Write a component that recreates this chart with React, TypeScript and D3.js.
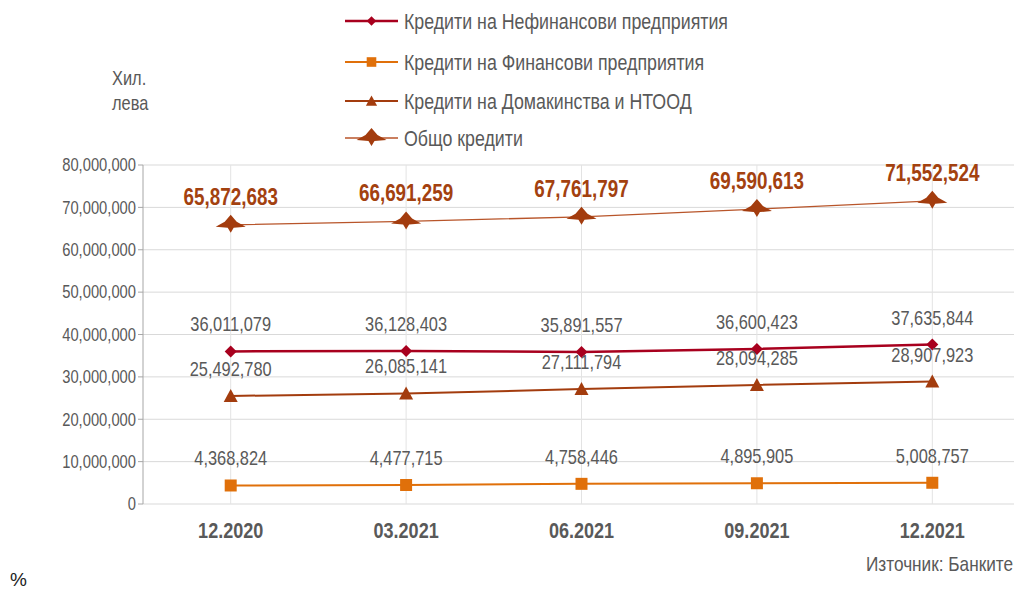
import React from "react";
import * as d3 from "d3";

const categories = ["12.2020", "03.2021", "06.2021", "09.2021", "12.2021"];
const nonFinancial = [36011079, 36128403, 35891557, 36600423, 37635844];
const financial = [4368824, 4477715, 4758446, 4895905, 5008757];
const households = [25492780, 26085141, 27111794, 28094285, 28907923];
const total = [65872683, 66691259, 67761797, 69590613, 71552524];
const yTicks = [0, 10000000, 20000000, 30000000, 40000000, 50000000, 60000000, 70000000, 80000000];
const legendLabels = [
  "Кредити на Нефинансови предприятия",
  "Кредити на Финансови предприятия",
  "Кредити на Домакинства и НТООД",
  "Общо кредити",
];

const W = 1014;
const H = 590;
const FONT = "'Liberation Sans', Arial, sans-serif";
const GRAY = "#595959";
const NARROW = 0.82;

type Marker = "diamond" | "square" | "triangle" | "big";

interface Series {
  name: string;
  values: number[];
  color: string;
  lineColor: string;
  lineWidth: number;
  marker: Marker;
  bold: boolean;
  labelColor: string;
}

const series: Series[] = [
  { name: legendLabels[0], values: nonFinancial, color: "#A8001E", lineColor: "#A8001E", lineWidth: 2.5, marker: "diamond", bold: false, labelColor: GRAY },
  { name: legendLabels[1], values: financial, color: "#E0700A", lineColor: "#E0700A", lineWidth: 2, marker: "square", bold: false, labelColor: GRAY },
  { name: legendLabels[2], values: households, color: "#A33C0E", lineColor: "#A33C0E", lineWidth: 2, marker: "triangle", bold: false, labelColor: GRAY },
  { name: legendLabels[3], values: total, color: "#A33C0E", lineColor: "#B8552A", lineWidth: 1.3, marker: "big", bold: true, labelColor: "#A3410F" },
];

function markerPath(m: Marker): string {
  switch (m) {
    case "diamond":
      return "M0,-6L6,0L0,6L-6,0Z";
    case "square":
      return "M-6,-6H6V6H-6Z";
    case "triangle":
      return "M0,-7L7,6H-7Z";
    case "big":
      return "M0,-10L6,-3L15,2L3,3L0,8L-3,3L-15,2L-6,-3Z";
  }
}

interface NTextProps {
  x: number;
  y: number;
  size: number;
  anchor?: "start" | "middle" | "end";
  bold?: boolean;
  fill?: string;
  dy?: string;
  children: React.ReactNode;
}

function NText({ x, y, size, anchor = "start", bold = false, fill = GRAY, dy, children }: NTextProps) {
  return (
    <text
      transform={`translate(${x},${y}) scale(${NARROW},1)`}
      dy={dy}
      textAnchor={anchor}
      fontSize={size}
      fontWeight={bold ? "bold" : "normal"}
      fill={fill}
    >
      {children}
    </text>
  );
}

export default function App() {
  const x = d3.scaleBand<string>().domain(categories).range([143, 1020]).paddingInner(0).paddingOuter(0);
  const cx = (c: string) => (x(c) as number) + x.bandwidth() / 2;
  const y = d3.scaleLinear().domain([0, 80000000]).range([504, 165]);
  const fmt = d3.format(",");
  const line = d3
    .line<number>()
    .x((_, i) => cx(categories[i]))
    .y((v) => y(v));

  const legendY = [21, 62, 101, 138];

  return (
    <svg
      width={W}
      height={H}
      style={{ position: "absolute", left: 0, top: 0, background: "#fff" }}
      fontFamily={FONT}
    >
      {/* horizontal gridlines */}
      {yTicks.map((t) => (
        <line key={"h" + t} x1={143} x2={W} y1={y(t)} y2={y(t)} stroke="#D9D9D9" strokeWidth={1} />
      ))}
      {/* vertical gridlines */}
      {categories.map((c) => (
        <line key={"v" + c} x1={cx(c)} x2={cx(c)} y1={y(80000000)} y2={y(0)} stroke="#E3E3E3" strokeWidth={1} />
      ))}
      {/* y axis */}
      <line x1={143} x2={143} y1={y(80000000)} y2={y(0)} stroke="#A6A6A6" strokeWidth={1} />
      {yTicks.map((t) => (
        <g key={"t" + t}>
          <line x1={138} x2={143} y1={y(t)} y2={y(t)} stroke="#A6A6A6" strokeWidth={1} />
          <NText x={136} y={y(t)} dy="0.35em" anchor="end" size={18}>
            {fmt(t)}
          </NText>
        </g>
      ))}
      {/* x labels */}
      {categories.map((c) => (
        <NText key={"x" + c} x={cx(c)} y={538} anchor="middle" size={22} bold>
          {c}
        </NText>
      ))}
      {/* series */}
      {series.map((s) => (
        <g key={s.name}>
          <path d={line(s.values) || ""} fill="none" stroke={s.lineColor} strokeWidth={s.lineWidth} />
          {s.values.map((v, i) => (
            <path key={i} d={markerPath(s.marker)} transform={`translate(${cx(categories[i])},${y(v)})`} fill={s.color} />
          ))}
          {s.values.map((v, i) => (
            <NText
              key={"l" + i}
              x={cx(categories[i])}
              y={y(v) - 20}
              anchor="middle"
              size={s.bold ? 23 : 20}
              bold={s.bold}
              fill={s.labelColor}
            >
              {fmt(v)}
            </NText>
          ))}
        </g>
      ))}
      {/* legend */}
      {series.map((s, i) => (
        <g key={"lg" + i} transform={`translate(0,${legendY[i]})`}>
          <line x1={345} x2={398} y1={0} y2={0} stroke={s.lineColor} strokeWidth={s.lineWidth} />
          <path d={markerPath(s.marker)} transform={`translate(371.5,0)${s.marker === "big" ? "" : " scale(0.8)"}`} fill={s.color} />
          <NText x={404} y={0} dy="0.35em" size={21.7}>
            {s.name}
          </NText>
        </g>
      ))}
      {/* unit */}
      <NText x={112} y={78} dy="0.35em" size={20}>Хил.</NText>
      <NText x={112} y={103} dy="0.35em" size={20}>лева</NText>
      {/* source */}
      <NText x={866} y={564} dy="0.35em" size={21}>Източник: Банките</NText>
      <text x={10} y={579} dy="0.35em" fontSize={19} fill="#222">%</text>
    </svg>
  );
}
